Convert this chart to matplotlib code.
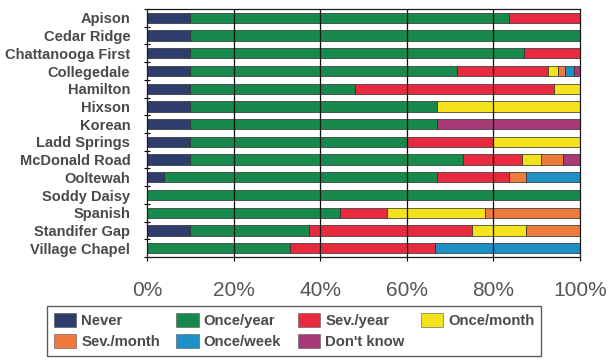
import matplotlib
matplotlib.use("Agg")
import matplotlib.pyplot as plt
import numpy as np
from matplotlib.patches import Patch

plt.rcParams["font.family"] = ["Liberation Sans", "DejaVu Sans"]

# Survey responses per congregation (percent of respondents)
categories = ["Apison", "Cedar Ridge", "Chattanooga First", "Collegedale",
              "Hamilton", "Hixson", "Korean", "Ladd Springs", "McDonald Road",
              "Ooltewah", "Soddy Daisy", "Spanish", "Standifer Gap",
              "Village Chapel"]

never      = [10, 10, 10, 10, 10, 10, 10, 10, 10, 4, 0, 0, 10, 0]
once_year  = [73.5, 90, 77, 61.5, 38, 57, 57, 50, 63, 63, 100, 44.5, 27.5, 33]
sev_year   = [16.5, 0, 13, 21, 46, 0, 0, 20, 13.5, 16.5, 0, 11, 37.5, 33.5]
once_month = [0, 0, 0, 2.5, 6, 33, 0, 20, 4.5, 0, 0, 22.5, 12.5, 0]
sev_month  = [0, 0, 0, 1.5, 0, 0, 0, 0, 5, 4, 0, 22, 12.5, 0]
once_week  = [0, 0, 0, 2, 0, 0, 0, 0, 0, 12.5, 0, 0, 0, 33.5]
dont_know  = [0, 0, 0, 1.5, 0, 0, 33, 0, 4, 0, 0, 0, 0, 0]

series_names = ["Never", "Once/year", "Sev./year", "Once/month",
                "Sev./month", "Once/week", "Don't know"]
series_values = [never, once_year, sev_year, once_month,
                 sev_month, once_week, dont_know]
colors = ["#2f3d6c", "#17894c", "#e82a3e", "#f4e31c",
          "#ee7a3c", "#1e90c6", "#a83a78"]

tick_values = [0, 20, 40, 60, 80, 100]
tick_labels = ["0%", "20%", "40%", "60%", "80%", "100%"]

fig = plt.figure(figsize=(6.11, 3.60), dpi=100)
ax = fig.add_axes([147 / 611, 1 - 257 / 360, 433 / 611, 248 / 360])

y = np.arange(len(categories))
left = np.zeros(len(categories))
for name, vals, col in zip(series_names, series_values, colors):
    vals = np.asarray(vals, dtype=float)
    ax.barh(y, vals, left=left, height=0.58, color=col,
            edgecolor="#2a2a2a", linewidth=0.5, label=name, zorder=2)
    left += vals

ax.set_xlim(0, 100)
ax.set_ylim(len(categories) - 0.5, -0.5)

# vertical gridlines drawn across the bars
for gx in tick_values[1:-1]:
    ax.axvline(gx, color="#111111", linewidth=0.9, zorder=3)

ax.set_xticks(tick_values)
ax.set_xticklabels(tick_labels, fontsize=15, color="#555555")
ax.tick_params(axis="x", length=3, width=0.8, pad=14, direction="out")

ax.set_yticks(y)
ax.set_yticklabels(categories, fontsize=10.5, color="#4a4a4a",
                   fontweight="bold")
ax.tick_params(axis="y", which="major", length=0, pad=12)
ax.set_yticks(np.arange(len(categories) + 1) - 0.5, minor=True)
ax.tick_params(axis="y", which="minor", length=5, width=0.8,
               direction="inout")

for sp in ax.spines.values():
    sp.set_color("#1a1a1a")
    sp.set_linewidth(0.9)
    sp.set_zorder(4)

# legend laid out row by row in four columns
handles = [Patch(facecolor=c, edgecolor="#555555", linewidth=0.4)
           for c in colors]
order = [0, 4, 1, 5, 2, 6, 3]
leg = fig.legend([handles[i] for i in order],
                 [series_names[i] for i in order],
                 ncol=4, loc="upper left",
                 bbox_to_anchor=(47 / 611, 1 - 306 / 360),
                 prop={"size": 10.7, "weight": "bold"},
                 frameon=True, fancybox=False,
                 edgecolor="#333333", handlelength=1.5, handleheight=1.1,
                 handletextpad=0.35, columnspacing=1.1, labelspacing=0.4,
                 borderpad=0.45, borderaxespad=0)
leg.get_frame().set_linewidth(1.0)
for t in leg.get_texts():
    t.set_color("#4a4a4a")

fig.savefig("out.png", dpi=100)
